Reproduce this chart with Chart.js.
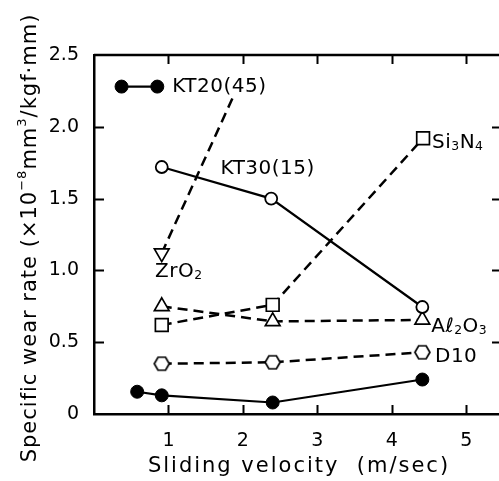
<!DOCTYPE html>
<html>
<head>
<meta charset="utf-8">
<script src="https://cdn.jsdelivr.net/npm/chart.js@4.4.0/dist/chart.umd.min.js"></script>
<style>
  html, body { margin: 0; padding: 0; background: #fff; overflow: hidden; }
  canvas { display: block; }
</style>
</head>
<body>
<canvas id="wearChart" width="503" height="481"></canvas>
<script>
// ticks
const xTicks = [1, 2, 3, 4, 5];
const yTicks = [0, 0.5, 1, 1.5, 2, 2.5];
const yTickLabels = ["0", "0.5", "1.0", "1.5", "2.0", "2.5"];

// series (sliding velocity m/sec, wear rate x10^-8 mm3/kgf.mm)
const kt20KeyX = [0.37, 0.85];
const kt20KeyY = [2.28, 2.28];
const kt20X = [0.58, 0.91, 2.4, 4.41];
const kt20Y = [0.155, 0.13, 0.08, 0.24];
const kt30X = [0.91, 2.38, 4.41];
const kt30Y = [1.72, 1.5, 0.745];
const zro2X = [0.91, 1.87];
const zro2Y = [1.12, 2.21];
const si3n4X = [0.91, 2.4, 4.42];
const si3n4Y = [0.62, 0.76, 1.92];
const al2o3X = [0.91, 2.4, 4.41];
const al2o3Y = [0.75, 0.645, 0.655];
const d10X = [0.91, 2.4, 4.41];
const d10Y = [0.35, 0.36, 0.43];

// text labels next to the lines
const noteParts = [
  [["KT20(45)", ""]],
  [["KT30(15)", ""]],
  [["Si", ""], ["3", "sub"], ["N", ""], ["4", "sub"]],
  [["ZrO", ""], ["2", "sub"]],
  [["A\u2113", ""], ["2", "sub"], ["O", ""], ["3", "sub"]],
  [["D10", ""]]
];
const noteX = [1.05, 1.70, 4.54, 0.82, 4.53, 4.58];
const noteY = [2.28, 1.71, 1.89, 0.99, 0.61, 0.40];

const fontFam = '"DejaVu Sans", sans-serif';

const pts = (xs, ys) => xs.map((v, i) => ({ x: v, y: ys[i] }));

// hexagon marker for D10
const hexMark = document.createElement("canvas");
hexMark.width = 19;
hexMark.height = 19;
(() => {
  const c = hexMark.getContext("2d");
  c.beginPath();
  for (let i = 0; i < 6; i++) {
    const a = (i * Math.PI) / 3;
    const px = 9.5 + 7.5 * Math.cos(a);
    const py = 9.5 + 7.5 * Math.sin(a);
    if (i === 0) c.moveTo(px, py); else c.lineTo(px, py);
  }
  c.closePath();
  c.fillStyle = "#fff";
  c.fill();
  c.lineWidth = 1.7;
  c.strokeStyle = "#000";
  c.stroke();
})();

function drawRich(ctx, parts, x, y, size) {
  let cx = x;
  parts.forEach(([t, kind]) => {
    const fs = kind ? size * 0.62 : size;
    ctx.font = fs + "px " + fontFam;
    const dy = kind === "sub" ? size * 0.2 : kind === "sup" ? -size * 0.38 : 0;
    ctx.fillText(t, cx, y + dy);
    cx += ctx.measureText(t).width;
  });
  return cx - x;
}

function richWidth(ctx, parts, size) {
  let w = 0;
  parts.forEach(([t, kind]) => {
    ctx.font = (kind ? size * 0.62 : size) + "px " + fontFam;
    w += ctx.measureText(t).width;
  });
  return w;
}

const frameAndText = {
  id: "frameAndText",
  afterDraw(chart) {
    const { ctx, chartArea: a, scales: { x, y } } = chart;
    ctx.save();
    ctx.strokeStyle = "#000";
    ctx.lineWidth = 2.5;
    ctx.beginPath();
    ctx.moveTo(a.left, a.top);
    ctx.lineTo(a.right, a.top);
    ctx.lineTo(a.right, a.bottom);
    ctx.stroke();

    // inward ticks on all four sides
    ctx.lineWidth = 2;
    ctx.beginPath();
    xTicks.forEach(v => {
      const px = Math.round(x.getPixelForValue(v)) + 0.5;
      ctx.moveTo(px, a.bottom); ctx.lineTo(px, a.bottom - 9);
      ctx.moveTo(px, a.top); ctx.lineTo(px, a.top + 9);
    });
    yTicks.slice(1, -1).forEach(v => {
      const py = Math.round(y.getPixelForValue(v)) + 0.5;
      ctx.moveTo(a.left, py); ctx.lineTo(a.left + 10, py);
      ctx.moveTo(a.right, py); ctx.lineTo(a.right - 10, py);
    });
    ctx.stroke();

    ctx.fillStyle = "#000";
    ctx.textBaseline = "middle";
    ctx.textAlign = "left";
    ctx.letterSpacing = "0.5px";
    noteParts.forEach((parts, i) => {
      drawRich(ctx, parts, x.getPixelForValue(noteX[i]), y.getPixelForValue(noteY[i]), 20);
    });

    // axis titles
    ctx.letterSpacing = "2px";
    const xTitle = [["Sliding velocity  (m/sec)", ""]];
    const xw = richWidth(ctx, xTitle, 21);
    drawRich(ctx, xTitle, 299 - xw / 2, 467, 21);

    ctx.letterSpacing = "1px";
    const yTitle = [["Specific wear rate (\u00d710", ""], ["\u22128", "sup"], ["mm", ""], ["3", "sup"], ["/kgf\u00b7mm)", ""]];
    ctx.translate(31, 238);
    ctx.rotate(-Math.PI / 2);
    const yw = richWidth(ctx, yTitle, 21);
    drawRich(ctx, yTitle, -yw / 2, 0, 21);
    ctx.restore();
  }
};

const lineBase = { showLine: true, borderColor: "#000", pointBorderColor: "#000", tension: 0 };

new Chart(document.getElementById("wearChart"), {
  type: "scatter",
  data: {
    datasets: [
      { ...lineBase, label: "KT20(45) key", data: pts(kt20KeyX, kt20KeyY), borderWidth: 2.2,
        pointStyle: "circle", pointRadius: 6.5, pointBackgroundColor: "#000", pointBorderWidth: 1 },
      { ...lineBase, label: "KT20(45)", data: pts(kt20X, kt20Y), borderWidth: 2.2,
        pointStyle: "circle", pointRadius: 6.5, pointBackgroundColor: "#000", pointBorderWidth: 1 },
      { ...lineBase, label: "KT30(15)", data: pts(kt30X, kt30Y), borderWidth: 2.2,
        pointStyle: "circle", pointRadius: 6, pointBackgroundColor: "#fff", pointBorderWidth: 1.8 },
      { ...lineBase, label: "ZrO2", data: pts(zro2X, zro2Y), borderWidth: 2.5, borderDash: [10, 6],
        pointStyle: "triangle", pointRotation: 180, pointRadius: [8.5, 0], pointBackgroundColor: "#fff", pointBorderWidth: 1.7 },
      { ...lineBase, label: "Si3N4", data: pts(si3n4X, si3n4Y), borderWidth: 2.5, borderDash: [10, 6],
        pointStyle: "rect", pointRadius: 9, pointBackgroundColor: "#fff", pointBorderWidth: 1.7 },
      { ...lineBase, label: "Al2O3", data: pts(al2o3X, al2o3Y), borderWidth: 2.5, borderDash: [10, 6],
        pointStyle: "triangle", pointRadius: 8.5, pointBackgroundColor: "#fff", pointBorderWidth: 1.7 },
      { ...lineBase, label: "D10", data: pts(d10X, d10Y), borderWidth: 2.5, borderDash: [10, 6],
        pointStyle: hexMark, pointRadius: 8 }
    ]
  },
  options: {
    responsive: false,
    animation: false,
    layout: { autoPadding: false, padding: { top: 55, right: 1, left: 0, bottom: 0 } },
    plugins: { legend: { display: false }, tooltip: { enabled: false } },
    scales: {
      x: {
        type: "linear", min: 0, max: 5.48,
        afterBuildTicks: s => { s.ticks = xTicks.map(v => ({ value: v })); },
        afterFit: s => { s.height = 67; },
        grid: { display: false },
        border: { display: true, color: "#000", width: 2.5 },
        ticks: { color: "#000", padding: 8, font: { family: fontFam, size: 19 } }
      },
      y: {
        type: "linear", min: 0, max: 2.5,
        afterBuildTicks: s => { s.ticks = yTicks.map(v => ({ value: v })); },
        afterFit: s => { s.width = 94; },
        grid: { display: false },
        border: { display: true, color: "#000", width: 2.5 },
        ticks: {
          color: "#000", padding: 7, font: { family: fontFam, size: 19 },
          callback: (v) => yTickLabels[yTicks.indexOf(v)]
        }
      }
    }
  },
  plugins: [frameAndText]
});
</script>
</body>
</html>
